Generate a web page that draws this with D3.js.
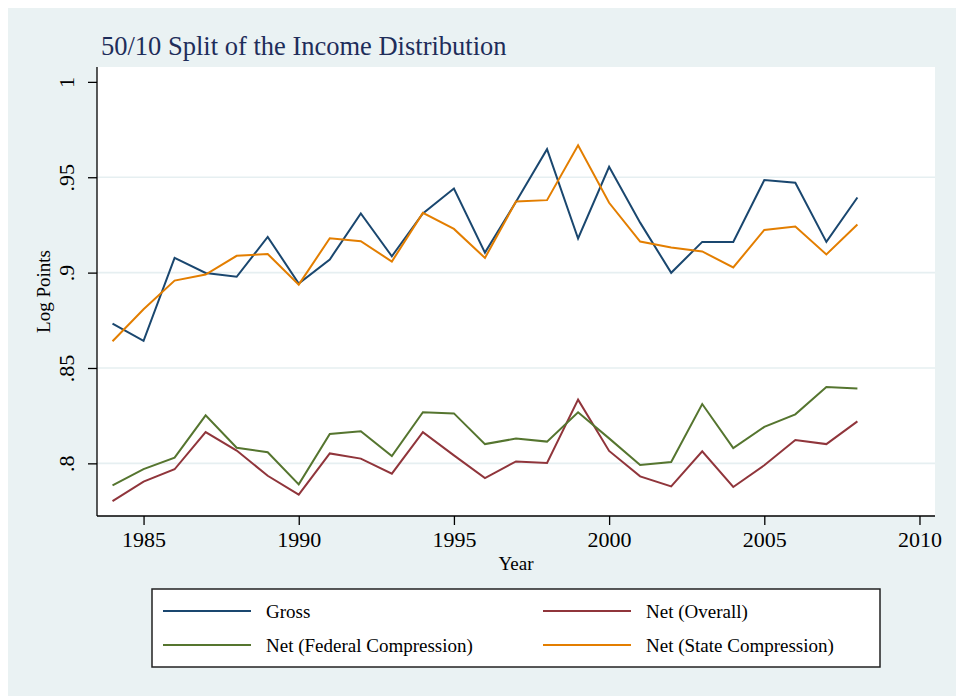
<!DOCTYPE html>
<html>
<head>
<meta charset="utf-8">
<script src="https://cdn.jsdelivr.net/npm/d3@7"></script>
<style>
  body { margin: 0; background: #ffffff; }
  svg text { font-family: "Liberation Serif", "Times New Roman", serif; }
</style>
</head>
<body>
<div id="chart"></div>
<script>
// years and the four series (log points, 50/10 split)
const years = d3.range(1984, 2009);
const gross = [0.8733, 0.8642, 0.9077, 0.8998, 0.8978, 0.9187, 0.8943, 0.9069, 0.9310, 0.9086,
  0.9310, 0.9441, 0.9105, 0.9371, 0.9647, 0.9179, 0.9555, 0.9262, 0.8999, 0.9161,
  0.9161, 0.9485, 0.9471, 0.9161, 0.9394];
const netOverall = [0.7802, 0.7904, 0.7969, 0.8164, 0.8067, 0.7935, 0.7836, 0.8052, 0.8025, 0.7946,
  0.8164, 0.8042, 0.7923, 0.8010, 0.8002, 0.8334, 0.8065, 0.7932, 0.7879, 0.8063,
  0.7876, 0.7990, 0.8122, 0.8101, 0.8220];
const netFederal = [0.7885, 0.7970, 0.8030, 0.8252, 0.8082, 0.8058, 0.7890, 0.8154, 0.8168, 0.8038,
  0.8268, 0.8262, 0.8101, 0.8130, 0.8114, 0.8268, 0.8131, 0.7991, 0.8007, 0.8311,
  0.8080, 0.8191, 0.8257, 0.8400, 0.8392];
const netState = [0.8640, 0.8808, 0.8958, 0.8990, 0.9088, 0.9098, 0.8937, 0.9180, 0.9165, 0.9058,
  0.9313, 0.9229, 0.9077, 0.9373, 0.9380, 0.9668, 0.9366, 0.9163, 0.9132, 0.9111,
  0.9027, 0.9224, 0.9242, 0.9095, 0.9252];

const xTicks = [1985, 1990, 1995, 2000, 2005, 2010];
const yTicks = [0.8, 0.85, 0.9, 0.95, 1];
const yTickLabels = [".8", ".85", ".9", ".95", "1"];

const seriesNames = ["Gross", "Net (Overall)", "Net (Federal Compression)", "Net (State Compression)"];
const seriesValues = [gross, netOverall, netFederal, netState];
const colours = ["#1a476f", "#90353b", "#55752f", "#e37e00"];

const width = 956;
const height = 696;
const plot = { left: 97, right: 935, top: 67, bottom: 516 };

const svg = d3.select("#chart")
  .append("svg")
  .attr("width", width)
  .attr("height", height);

// stata-ish background
svg.append("rect")
  .attr("x", 8).attr("y", 8)
  .attr("width", width - 8).attr("height", height - 8)
  .attr("fill", "#eaf2f3");

svg.append("rect")
  .attr("x", plot.left).attr("y", plot.top)
  .attr("width", plot.right - plot.left).attr("height", plot.bottom - plot.top)
  .attr("fill", "#ffffff");

const x = d3.scaleLinear().domain([1983.5, 2010.5]).range([plot.left, plot.right]);
const y = d3.scaleLinear().domain([0.7724, 1.0078]).range([plot.bottom, plot.top]);

// gridlines (not at the top tick)
svg.append("g")
  .selectAll("line")
  .data(yTicks.filter(d => d < 1))
  .join("line")
  .attr("x1", plot.left).attr("x2", plot.right)
  .attr("y1", d => y(d)).attr("y2", d => y(d))
  .attr("stroke", "#e6eff1")
  .attr("stroke-width", 1.6);

// y axis
const yAxis = svg.append("g")
  .attr("transform", `translate(${plot.left},0)`)
  .call(d3.axisLeft(y).tickValues(yTicks).tickSize(9).tickFormat((d, i) => yTickLabels[i]));
yAxis.select(".domain").attr("d", `M0,${plot.top}V${plot.bottom}`).attr("stroke", "#000").attr("stroke-width", 1.3);
yAxis.selectAll(".tick line").attr("stroke", "#000").attr("stroke-width", 1.3);
yAxis.selectAll(".tick text")
  .attr("x", null).attr("dy", null)
  .attr("transform", "translate(-23,0) rotate(-90)")
  .attr("text-anchor", "middle")
  .attr("fill", "#000")
  .attr("font-size", 22);

// x axis
const xAxis = svg.append("g")
  .attr("transform", `translate(0,${plot.bottom})`)
  .call(d3.axisBottom(x).tickValues(xTicks).tickSize(9).tickFormat(d3.format("d")));
xAxis.select(".domain").attr("d", `M${plot.left},0H${plot.right}`).attr("stroke", "#000").attr("stroke-width", 1.3);
xAxis.selectAll(".tick line").attr("stroke", "#000").attr("stroke-width", 1.3);
xAxis.selectAll(".tick text")
  .attr("y", 31).attr("dy", null)
  .attr("fill", "#000")
  .attr("font-size", 22);

// lines
const line = d3.line()
  .x((d, i) => x(years[i]))
  .y(d => y(d));

svg.append("g")
  .selectAll("path")
  .data(seriesValues)
  .join("path")
  .attr("d", line)
  .attr("fill", "none")
  .attr("stroke", (_, i) => colours[i])
  .attr("stroke-width", 2)
  .attr("stroke-linejoin", "miter");

// titles
svg.append("text")
  .attr("x", 101).attr("y", 55)
  .attr("font-size", 26.5)
  .attr("fill", "#1e2d5a")
  .text("50/10 Split of the Income Distribution");

svg.append("text")
  .attr("x", (plot.left + plot.right) / 2).attr("y", 570)
  .attr("text-anchor", "middle")
  .attr("font-size", 19)
  .text("Year");

svg.append("text")
  .attr("transform", `translate(50,${(plot.top + plot.bottom) / 2}) rotate(-90)`)
  .attr("text-anchor", "middle")
  .attr("font-size", 19)
  .text("Log Points");

// legend
const legend = svg.append("g");
legend.append("rect")
  .attr("x", 152).attr("y", 589)
  .attr("width", 728).attr("height", 78)
  .attr("fill", "#ffffff")
  .attr("stroke", "#222")
  .attr("stroke-width", 1.5);

const cols = [163, 543];
const rows = [611, 645];
const items = legend.selectAll("g.item")
  .data(seriesNames)
  .join("g")
  .attr("class", "item")
  .attr("transform", (_, i) => `translate(${cols[i % 2]},${rows[Math.floor(i / 2)]})`);

items.append("line")
  .attr("x1", 0).attr("x2", 88)
  .attr("stroke", (_, i) => colours[i])
  .attr("stroke-width", 2);

items.append("text")
  .attr("x", 103).attr("dy", "0.35em")
  .attr("font-size", 19)
  .text(d => d);
</script>
</body>
</html>
